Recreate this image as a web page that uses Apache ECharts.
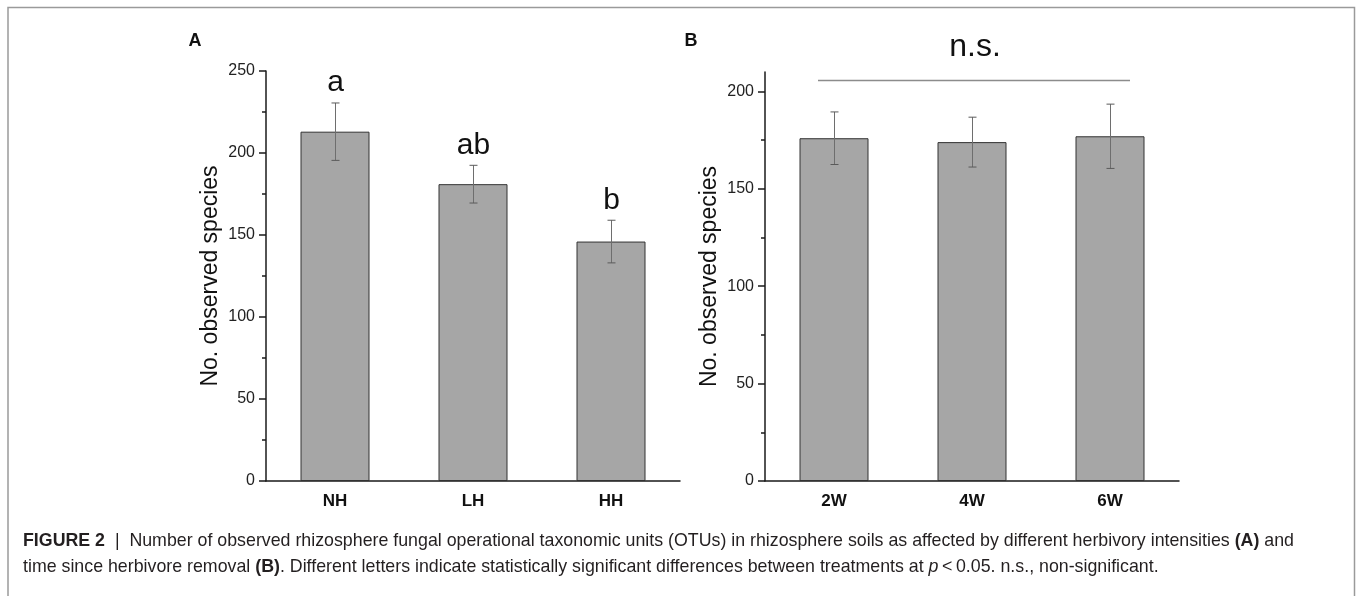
<!DOCTYPE html>
<html>
<head>
<meta charset="utf-8">
<script src="https://cdn.jsdelivr.net/npm/echarts@6/dist/echarts.min.js"></script>
<style>
  html, body { margin: 0; padding: 0; background: #fff; }
  #main { width: 1359px; height: 596px; }
</style>
</head>
<body>
<div id="main"></div>
<script>
// panel A: herbivory intensity
const catsA = ['NH', 'LH', 'HH'];
const meanA = [213, 181, 146];
const errA = [17.5, 11.5, 13];
const lettersA = ['a', 'ab', 'b'];
const yTicksA = [0, 50, 100, 150, 200, 250];
const yMinorA = [25, 75, 125, 175, 225];

// panel B: time since herbivore removal
const catsB = ['2W', '4W', '6W'];
const meanB = [176, 174, 177];
const errB = [13.5, 12.8, 16.5];
const yTicksB = [0, 50, 100, 150, 200];
const yMinorB = [25, 75, 125, 175];

const FONT = '"Liberation Sans", Arial, sans-serif';
const AXIS = '#1a1a1a';

const chart = echarts.init(document.getElementById('main'));

function xMajor(grid, cats) {
  return {
    type: 'category', gridIndex: grid, data: cats,
    axisLine: { lineStyle: { color: AXIS, width: 1.5 } },
    axisTick: { alignWithLabel: true, length: 7, lineStyle: { color: AXIS, width: 1.5 } },
    axisLabel: { margin: 12, fontSize: 17, fontWeight: 'bold', color: '#111', fontFamily: FONT },
    splitLine: { show: false }
  };
}
function xMinor(grid, cats) {
  return {
    type: 'category', gridIndex: grid, data: cats,
    axisLine: { show: false },
    axisTick: { alignWithLabel: false, length: 4, lineStyle: { color: AXIS, width: 1.5 } },
    axisLabel: { show: false },
    splitLine: { show: false }
  };
}
function yMajor(grid, max, ticks) {
  return {
    type: 'value', gridIndex: grid, position: 'left', min: 0, max: max, interval: 50,
    name: 'No. observed species', nameLocation: 'middle', nameRotate: 90, nameGap: 44,
    nameTextStyle: { fontSize: 23, color: '#111', fontFamily: FONT },
    axisLine: { show: true, lineStyle: { color: AXIS, width: 1.5 } },
    axisTick: { show: true, length: 7, customValues: ticks, lineStyle: { color: AXIS, width: 1.5 } },
    axisLabel: { margin: 11, fontSize: 16, color: '#222', fontFamily: FONT, customValues: ticks },
    splitLine: { show: false }
  };
}
function yMinor(grid, max, ticks) {
  return {
    type: 'value', gridIndex: grid, position: 'left', offset: 0, min: 0, max: max, interval: 50,
    axisLine: { show: false },
    axisTick: { show: true, length: 4, customValues: ticks, lineStyle: { color: AXIS, width: 1.5 } },
    axisLabel: { show: false },
    splitLine: { show: false }
  };
}

function errorSeries(xi, yi, means, errs, letters) {
  return {
    type: 'custom', xAxisIndex: xi, yAxisIndex: yi, z: 5, silent: true,
    data: means.map((m, i) => [i, m - errs[i], m + errs[i]]),
    encode: { x: 0, y: [1, 2] },
    renderItem: function (params, api) {
      const lo = api.coord([api.value(0), api.value(1)]);
      const hi = api.coord([api.value(0), api.value(2)]);
      const cx = Math.round(lo[0]) + 0.5;
      const cap = 4;
      const st = { stroke: '#5a5a5a', lineWidth: 1 };
      const children = [
        { type: 'line', shape: { x1: cx, y1: lo[1], x2: cx, y2: hi[1] }, style: { stroke: '#6e6e6e', lineWidth: 1 } },
        { type: 'line', shape: { x1: cx - cap, y1: hi[1], x2: cx + cap, y2: hi[1] }, style: st },
        { type: 'line', shape: { x1: cx - cap, y1: lo[1], x2: cx + cap, y2: lo[1] }, style: st }
      ];
      if (letters) {
        children.push({
          type: 'text',
          style: {
            text: letters[params.dataIndex], x: cx, y: hi[1] - 20,
            align: 'center', verticalAlign: 'middle',
            font: '30px ' + FONT, fill: '#111'
          }
        });
      }
      return { type: 'group', children: children };
    }
  };
}

function barSeries(xi, yi, means) {
  return {
    type: 'bar', xAxisIndex: xi, yAxisIndex: yi, data: means, barWidth: '50%', silent: true,
    itemStyle: { color: '#a6a6a6', borderColor: '#333', borderWidth: 1 }
  };
}

const option = {
  animation: false,
  grid: [
    { left: 266, right: 679, top: 71, bottom: 115 },
    { left: 765, right: 180, top: 72, bottom: 115 }
  ],
  xAxis: [xMajor(0, catsA), xMinor(0, catsA), xMajor(1, catsB), xMinor(1, catsB)],
  yAxis: [yMajor(0, 250, yTicksA), yMinor(0, 250, yMinorA), yMajor(1, 210, yTicksB), yMinor(1, 210, yMinorB)],
  series: [
    barSeries(0, 0, meanA),
    errorSeries(0, 0, meanA, errA, lettersA),
    barSeries(2, 2, meanB),
    errorSeries(2, 2, meanB, errB, null)
  ],
  graphic: [
    // figure frame (open at the bottom)
    { type: 'polyline', silent: true, shape: { points: [[8, 600], [8, 7.5], [1354.5, 7.5], [1354.5, 600]] },
      style: { stroke: '#9a9a9a', lineWidth: 1.5, fill: null } },
    { type: 'text', x: 195, y: 41, style: { text: 'A', font: 'bold 18px ' + FONT, fill: '#111', align: 'center', verticalAlign: 'middle' } },
    { type: 'text', x: 691, y: 41, style: { text: 'B', font: 'bold 18px ' + FONT, fill: '#111', align: 'center', verticalAlign: 'middle' } },
    { type: 'text', x: 975, y: 47, style: { text: 'n.s.', font: '32px ' + FONT, fill: '#111', align: 'center', verticalAlign: 'middle' } },
    { type: 'line', silent: true, shape: { x1: 818, y1: 80.5, x2: 1130, y2: 80.5 }, style: { stroke: '#8c8c8c', lineWidth: 1.5 } },
    {
      type: 'text', x: 23, y: 541,
      style: {
        text: '{b|FIGURE 2}  |  Number of observed rhizosphere fungal operational taxonomic units (OTUs) in rhizosphere soils as affected by different herbivory intensities {b|(A)} and',
        font: '17.8px ' + FONT, fill: '#231f20', verticalAlign: 'middle',
        rich: { b: { fontWeight: 'bold', fontSize: 17.8, fontFamily: FONT, fill: '#231f20' } }
      }
    },
    {
      type: 'text', x: 23, y: 567,
      style: {
        text: 'time since herbivore removal {b|(B)}. Different letters indicate statistically significant differences between treatments at {i|p}\u2009<\u20090.05. n.s., non-significant.',
        font: '17.8px ' + FONT, fill: '#231f20', verticalAlign: 'middle',
        rich: {
          b: { fontWeight: 'bold', fontSize: 17.8, fontFamily: FONT, fill: '#231f20' },
          i: { fontStyle: 'italic', fontSize: 17.8, fontFamily: FONT, fill: '#231f20' }
        }
      }
    }
  ]
};
chart.setOption(option);
</script>
</body>
</html>
